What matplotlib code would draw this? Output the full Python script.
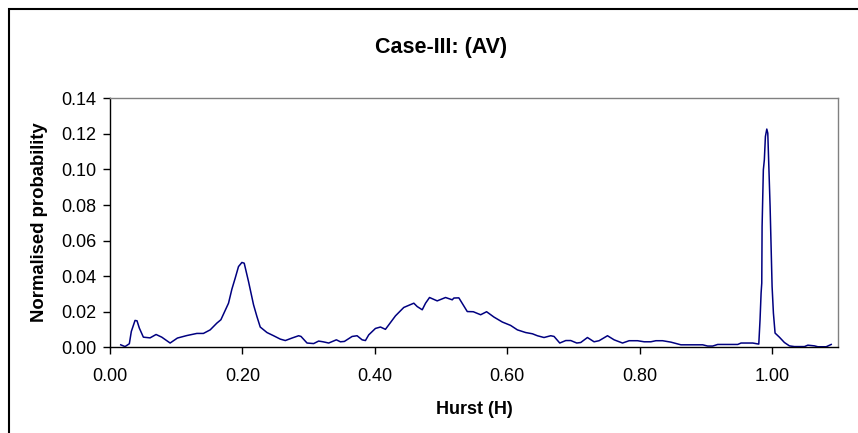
import matplotlib
matplotlib.use('Agg')
import matplotlib.pyplot as plt
from matplotlib.patches import Rectangle

plt.rcParams['font.family'] = ['Liberation Sans', 'DejaVu Sans']

title = 'Case-III: (AV)'
xlabel = 'Hurst (H)'
ylabel = 'Normalised probability'
xticks = [0.0, 0.2, 0.4, 0.6, 0.8, 1.0]
yticks = [0.0, 0.02, 0.04, 0.06, 0.08, 0.10, 0.12, 0.14]

# values
hurst = [0.0162, 0.0227, 0.0292, 0.0322, 0.0378, 0.0408, 0.0443, 0.0504, 0.0605, 0.0696,
         0.0782, 0.0908, 0.1018, 0.1160, 0.1312, 0.1411, 0.1513, 0.1614, 0.1675, 0.1790,
         0.1841, 0.1891, 0.1941, 0.1992, 0.2027, 0.2092, 0.2168, 0.2219, 0.2269, 0.2371,
         0.2471, 0.2572, 0.2648, 0.2749, 0.2849, 0.2885, 0.2976, 0.3076, 0.3151, 0.3218,
         0.3303, 0.3419, 0.3480, 0.3540, 0.3657, 0.3732, 0.3808, 0.3858, 0.3908, 0.4009,
         0.4085, 0.4160, 0.4210, 0.4312, 0.4437, 0.4589, 0.4640, 0.4716, 0.4766, 0.4826,
         0.4942, 0.5068, 0.5169, 0.5194, 0.5269, 0.5396, 0.5487, 0.5598, 0.5688, 0.5799,
         0.5926, 0.6051, 0.6153, 0.6278, 0.6380, 0.6455, 0.6555, 0.6657, 0.6707, 0.6793,
         0.6884, 0.6959, 0.7050, 0.7110, 0.7211, 0.7311, 0.7387, 0.7514, 0.7614, 0.7741,
         0.7841, 0.7968, 0.8068, 0.8169, 0.8245, 0.8346, 0.8472, 0.8623, 0.8775, 0.8952,
         0.9027, 0.9103, 0.9178, 0.9330, 0.9481, 0.9531, 0.9708, 0.9799, 0.9818, 0.9834,
         0.9844, 0.9849, 0.9868, 0.9883, 0.9899, 0.9920, 0.9935, 0.9950, 0.9970, 1.0000,
         1.0020, 1.0045, 1.0110, 1.0186, 1.0262, 1.0337, 1.0489, 1.0540, 1.0640, 1.0691,
         1.0817, 1.0893]
prob = [0.0014, 0.0004, 0.0020, 0.0089, 0.0151, 0.0149, 0.0108, 0.0057, 0.0053, 0.0072,
        0.0057, 0.0024, 0.0052, 0.0066, 0.0078, 0.0078, 0.0098, 0.0136, 0.0155, 0.0248,
        0.0327, 0.0389, 0.0454, 0.0477, 0.0473, 0.0370, 0.0239, 0.0173, 0.0114, 0.0083,
        0.0065, 0.0046, 0.0038, 0.0052, 0.0065, 0.0061, 0.0024, 0.0021, 0.0035, 0.0031,
        0.0024, 0.0042, 0.0031, 0.0033, 0.0061, 0.0065, 0.0042, 0.0038, 0.0070, 0.0106,
        0.0114, 0.0101, 0.0126, 0.0177, 0.0224, 0.0248, 0.0229, 0.0211, 0.0248, 0.0280,
        0.0261, 0.0280, 0.0267, 0.0277, 0.0278, 0.0201, 0.0200, 0.0183, 0.0200, 0.0170,
        0.0142, 0.0123, 0.0098, 0.0083, 0.0076, 0.0065, 0.0055, 0.0065, 0.0061, 0.0024,
        0.0038, 0.0038, 0.0024, 0.0027, 0.0055, 0.0031, 0.0037, 0.0065, 0.0042, 0.0024,
        0.0037, 0.0037, 0.0031, 0.0031, 0.0037, 0.0037, 0.0029, 0.0014, 0.0014, 0.0014,
        0.0007, 0.0007, 0.0016, 0.0016, 0.0016, 0.0024, 0.0024, 0.0018, 0.0155, 0.0305,
        0.0361, 0.0679, 0.0998, 0.1054, 0.1185, 0.1227, 0.1204, 0.1035, 0.0791, 0.0342,
        0.0192, 0.0080, 0.0057, 0.0027, 0.0008, 0.0004, 0.0004, 0.0012, 0.0008, 0.0003,
        0.0003, 0.0016]

fig = plt.figure(figsize=(8.58, 4.33), dpi=100)
# outer chart frame (only left and top edges are visible in the crop)
fig.patches.append(Rectangle((9/858, -0.1), 1.2, 1 - 9/433 + 0.1, transform=fig.transFigure,
                             fill=False, edgecolor='black', linewidth=1.5))

ax = fig.add_axes([110/858, 1 - 347.3/433, (838.3 - 110)/858, (347.3 - 98.3)/433])
ax.plot(hurst, prob, color='#000080', linewidth=1.1)

ax.set_xlim(0, 1.1)
ax.set_ylim(0, 0.14)
ax.set_xticks(xticks)
ax.set_xticklabels(['%.2f' % v for v in xticks])
ax.set_yticks(yticks)
ax.set_yticklabels(['%.2f' % v for v in yticks])
ax.tick_params(axis='both', direction='out', length=5, width=1, labelsize=13, colors='black')
ax.tick_params(axis='y', pad=5)
ax.tick_params(axis='x', pad=10)

for s in ['left', 'bottom']:
    ax.spines[s].set_color('black')
    ax.spines[s].set_linewidth(1)
for s in ['top', 'right']:
    ax.spines[s].set_color('#808080')
    ax.spines[s].set_linewidth(1)

fig.text(441/858, 1 - 48/433, title, ha='center', va='center', fontsize=15.5, fontweight='bold')
fig.text(474/858, 1 - 410/433, xlabel, ha='center', va='center', fontsize=13, fontweight='bold')
fig.text(40/858, 1 - 222.5/433, ylabel, ha='center', va='center', rotation=90,
         fontsize=13.3, fontweight='bold')

fig.savefig('out.png', dpi=100)
